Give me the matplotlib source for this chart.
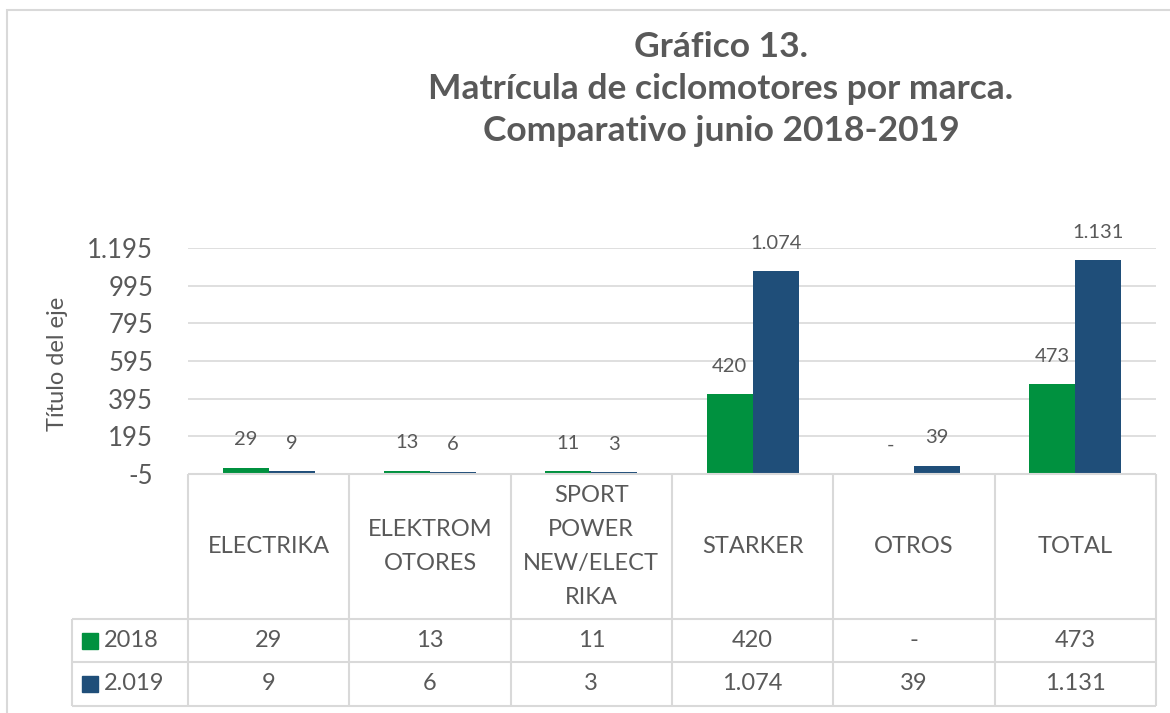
import matplotlib.pyplot as plt
from matplotlib.patches import Rectangle

# datos del gráfico
categorias = ["ELECTRIKA", "ELEKTROM\nOTORES", "SPORT\nPOWER\nNEW/ELECT\nRIKA",
              "STARKER", "OTROS", "TOTAL"]
series = ["2018", "2.019"]
valores_2018 = [29, 13, 11, 420, 0, 473]
valores_2019 = [9, 6, 3, 1074, 39, 1131]
ticks_y = [-5, 195, 395, 595, 795, 995, 1195]

titulo = "Gráfico 13.\nMatrícula de ciclomotores por marca.\nComparativo junio 2018-2019"
titulo_eje = "Título del eje"

VERDE = "#00913F"
AZUL = "#1F4E79"
GRIS = "#595959"
LINEA = "#D9D9D9"

plt.rcParams['font.family'] = ['Lato', 'DejaVu Sans']

W, H = 1170, 713


def caja(x0, y0, x1, y1):
    # convierte pixeles (origen arriba a la izquierda) a fracciones de figura
    return [x0 / W, 1 - y1 / H, (x1 - x0) / W, (y1 - y0) / H]


def fmt(v):
    if v == 0:
        return "-"
    return f"{v:,}".replace(",", ".")


fig = plt.figure(figsize=(W / 100, H / 100), dpi=100)

# marco exterior
fig.add_artist(Rectangle((7 / W, -0.1), 1.2, 1.1 - 10 / H, transform=fig.transFigure,
                         fill=False, ec=LINEA, lw=1.5))

# -------------------------------------------------------------
# barras
# -------------------------------------------------------------
ax = fig.add_axes(caja(188, 248, 1156, 474))
n = len(categorias)
x = [i + 0.5 for i in range(n)]
ancho = 46 / 161.33

for yt in ticks_y:
    ax.axhline(yt, color=LINEA, lw=1.2, zorder=0)

b1 = ax.bar([xi - ancho / 2 for xi in x], valores_2018, width=ancho, color=VERDE, zorder=2)
b2 = ax.bar([xi + ancho / 2 for xi in x], valores_2019, width=ancho, color=AZUL, zorder=2)

for barras, vals in ((b1, valores_2018), (b2, valores_2019)):
    for rect, v in zip(barras, vals):
        ax.annotate(fmt(v), (rect.get_x() + rect.get_width() / 2, v),
                    xytext=(0, 20), textcoords="offset points",
                    ha="center", va="center", fontsize=14.5, color=GRIS,
                    annotation_clip=False)

ax.set_xlim(0, n)
ax.set_ylim(ticks_y[0], ticks_y[-1])
ax.set_yticks(ticks_y)
ax.set_yticklabels([fmt(t) for t in ticks_y])
ax.tick_params(axis="y", length=0, pad=25, labelsize=18.5, labelcolor=GRIS)
ax.set_xticks([])
for s in ax.spines.values():
    s.set_visible(False)

fig.text(58 / W, 1 - 364 / H, titulo_eje, rotation=90, ha="center", va="center",
         fontsize=17, color=GRIS)

# -------------------------------------------------------------
# tabla de datos
# -------------------------------------------------------------
izq = -(188 - 72) / 161.33
tab = fig.add_axes(caja(72, 474, 1156, 706))
tab.set_xlim(izq, n)
tab.set_ylim(232, 0)
tab.axis("off")

filas = [145, 188, 232]
tab.hlines(0, 0, n, color=LINEA, lw=1.5, clip_on=False)
tab.hlines(filas, izq, n, color=LINEA, lw=1.5, clip_on=False)
tab.vlines(range(n + 1), 0, 232, color=LINEA, lw=1.5, clip_on=False)
tab.vlines(izq, 145, 232, color=LINEA, lw=1.5, clip_on=False)

for xi, cat in zip(x, categorias):
    tab.text(xi, 72.5, cat, ha="center", va="center", fontsize=17, color=GRIS,
             linespacing=1.75)

centros = [166.5, 210]
for yc, nombre, vals, col in zip(centros, series, (valores_2018, valores_2019), (VERDE, AZUL)):
    tab.plot(izq + 0.11, yc, marker="s", ms=11.5, color=col, clip_on=False)
    tab.text(izq + 0.2, yc, nombre, ha="left", va="center", fontsize=17, color=GRIS)
    for xi, v in zip(x, vals):
        tab.text(xi, yc, fmt(v), ha="center", va="center", fontsize=17, color=GRIS)

# título
fig.text(721 / W, 1 - 89 / H, titulo, ha="center", va="center", fontsize=25.5,
         fontweight="bold", color=GRIS, linespacing=1.38)

fig.savefig("out.png", dpi=100)
